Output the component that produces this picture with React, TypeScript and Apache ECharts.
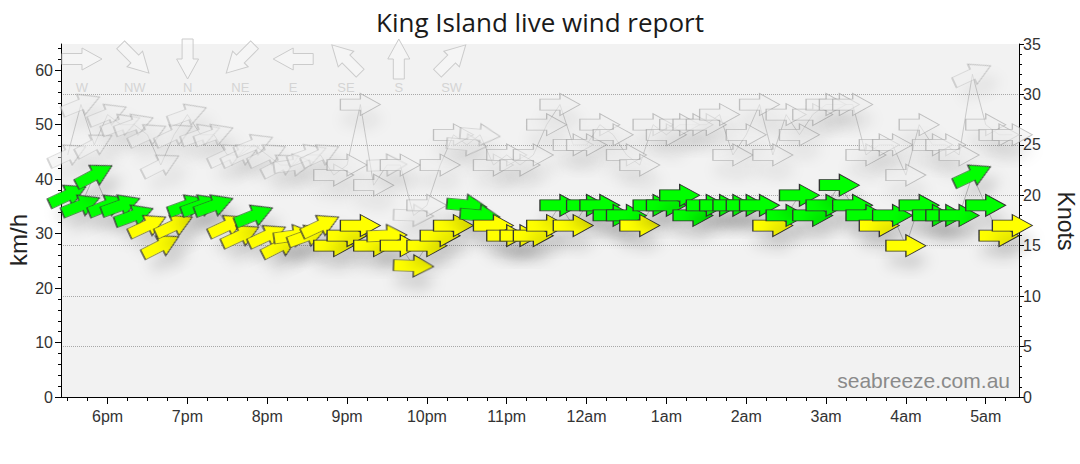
import React, { useEffect, useRef } from "react";
import * as echarts from "echarts";

// Observation times (local), every 10 minutes
const times = [
  "17:30", "17:40", "17:50", "18:00", "18:10", "18:20", "18:30", "18:40", "18:50",
  "19:00", "19:10", "19:20", "19:30", "19:40", "19:50", "20:00", "20:10", "20:20",
  "20:30", "20:40", "20:50", "21:00", "21:10", "21:20", "21:30", "21:40", "21:50",
  "22:00", "22:10", "22:20", "22:30", "22:40", "22:50", "23:00", "23:10", "23:20",
  "23:30", "23:40", "23:50", "00:00", "00:10", "00:20", "00:30", "00:40", "00:50",
  "01:00", "01:10", "01:20", "01:30", "01:40", "01:50", "02:00", "02:10", "02:20",
  "02:30", "02:40", "02:50", "03:00", "03:10", "03:20", "03:30", "03:40", "03:50",
  "04:00", "04:10", "04:20", "04:30", "04:40", "04:50", "05:00", "05:10", "05:20",
];

// Average wind speed (knots)
const windKnots = [
  20, 19, 22, 19, 19, 18, 17, 15, 17,
  19, 19, 19, 17, 16, 18, 16, 15, 16,
  16, 17, 15, 16, 17, 15, 16, 15, 13,
  15, 16, 17, 19, 18, 17, 16, 16, 16,
  17, 19, 17, 19, 19, 18, 18, 17, 19,
  19, 20, 18, 19, 19, 19, 19, 19, 17,
  18, 20, 18, 19, 21, 19, 18, 17, 18,
  15, 19, 18, 18, 18, 22, 19, 16, 17,
];

// Gust speed (knots)
const gustKnots = [
  24, 29, 25, 28, 27, 27, 26, 23, 26,
  28, 26, 26, 24, 24, 25, 24, 23, 23,
  24, 24, 22, 23, 29, 21, 23, 23, 18,
  19, 23, 26, 25, 26, 23, 24, 23, 24,
  27, 29, 25, 25, 27, 26, 24, 23, 27,
  26, 27, 27, 27, 28, 24, 26, 29, 24,
  28, 26, 28, 29, 29, 29, 24, 25, 25,
  22, 27, 25, 25, 24, 32, 27, 26, 26,
];

// Wind direction (degrees, direction the wind comes from)
const windDir = [
  245, 248, 242, 248, 250, 250, 245, 243, 245,
  250, 250, 250, 245, 245, 248, 245, 243, 262,
  250, 245, 270, 270, 270, 270, 268, 270, 272,
  270, 270, 270, 275, 275, 270, 270, 270, 270,
  270, 270, 270, 270, 270, 270, 270, 270, 270,
  270, 270, 270, 270, 270, 270, 270, 270, 270,
  270, 270, 270, 270, 270, 270, 270, 270, 270,
  270, 270, 270, 270, 270, 245, 270, 270, 270,
];

const hourLabels = ["6pm", "7pm", "8pm", "9pm", "10pm", "11pm", "12am", "1am", "2am", "3am", "4am", "5am"];
const kmhLabels = [0, 10, 20, 30, 40, 50, 60];
const compassLabels = ["W", "NW", "N", "NE", "E", "SE", "S", "SW"];
const compassDirs = [270, 315, 360, 45, 90, 135, 180, 225];

const KNOT_TO_KMH = 1.852;
const MAX_KNOTS = 35;
const GREEN = "#00ff00";
const YELLOW = "#ffff00";
const FONT = "'Liberation Sans', Arial, sans-serif";
const ARROW = "path://M0,5.5L20,5.5L20,0L40,11L20,22L20,16.5L0,16.5Z";

// minutes since 17:00
function toMin(t: string): number {
  const [h, m] = t.split(":").map(Number);
  const hh = h < 12 ? h + 24 : h;
  return (hh - 17) * 60 + m;
}

const X_MIN = 25;
const X_MAX = 745;

export default function App() {
  const ref = useRef<HTMLDivElement>(null);

  useEffect(() => {
    if (!ref.current) return;
    const chart = echarts.init(ref.current, undefined, { renderer: "svg" });

    const hourTicks = hourLabels.map((_, i) => (i + 1) * 60);
    const quarterTicks: number[] = [];
    for (let v = 30; v < X_MAX; v += 15) if (v % 60 !== 0) quarterTicks.push(v);
    const kmhMinor: number[] = [];
    for (let v = 2; v < MAX_KNOTS * KNOT_TO_KMH; v += 2) if (v % 10 !== 0) kmhMinor.push(v);

    const gustData = times.map((t, i) => ({
      value: [toMin(t), gustKnots[i]],
      symbolRotate: 270 - windDir[i],
    }));
    const windData = times.map((t, i) => ({
      value: [toMin(t), windKnots[i]],
      symbolRotate: 270 - windDir[i],
      itemStyle: { color: windKnots[i] >= 18 ? GREEN : YELLOW },
    }));

    // compass legend
    const arrowPts = [
      [-20, -5.5], [0, -5.5], [0, -11], [20, 0], [0, 11], [0, 5.5], [-20, 5.5],
    ];
    const legendEls: any[] = [];
    compassLabels.forEach((lab, i) => {
      const cx = 82 + i * 52.8;
      const ang = ((270 - compassDirs[i]) * Math.PI) / 180;
      legendEls.push({
        type: "polygon",
        x: cx,
        y: 59,
        rotation: ang,
        z: 1,
        silent: true,
        shape: { points: arrowPts },
        style: { fill: "rgba(246,246,246,0.6)", stroke: "#cbcbcb", lineWidth: 1 },
      });
      legendEls.push({
        type: "text",
        x: cx,
        y: 87,
        z: 1,
        silent: true,
        style: {
          text: lab,
          fill: "#d4d4d4",
          font: `13px ${FONT}`,
          align: "center",
          verticalAlign: "middle",
        },
      });
    });

    chart.setOption({
      animation: false,
      title: {
        text: "King Island live wind report",
        left: "center",
        top: 4,
        textStyle: {
          fontFamily: "'Open Sans', sans-serif",
          fontSize: 26,
          fontWeight: "normal",
          color: "#1a1a1a",
        },
      },
      grid: {
        left: 61,
        right: 61,
        top: 44,
        bottom: 67,
        show: true,
        backgroundColor: "#f2f2f2",
        borderWidth: 0,
      },
      xAxis: [
        {
          type: "value",
          min: X_MIN,
          max: X_MAX,
          position: "bottom",
          axisLine: { show: true, lineStyle: { color: "#000", width: 1 } },
          axisTick: { show: true, customValues: hourTicks, length: 7, lineStyle: { color: "#000" } },
          axisLabel: {
            customValues: hourTicks,
            formatter: (v: number) => hourLabels[Math.round(v / 60) - 1] ?? "",
            color: "#333",
            fontSize: 16,
            fontFamily: FONT,
            margin: 11,
          },
          splitLine: { show: false },
        },
        {
          type: "value",
          min: X_MIN,
          max: X_MAX,
          position: "bottom",
          axisLine: { show: false },
          axisTick: { show: true, customValues: quarterTicks, length: 4, lineStyle: { color: "#000" } },
          axisLabel: { show: false },
          splitLine: { show: false },
        },
      ],
      yAxis: [
        {
          type: "value",
          position: "left",
          min: 0,
          max: MAX_KNOTS * KNOT_TO_KMH,
          axisLine: { show: true, lineStyle: { color: "#000", width: 1 } },
          axisTick: { show: true, customValues: kmhLabels, length: 6, lineStyle: { color: "#000" } },
          axisLabel: { customValues: kmhLabels, color: "#333", fontSize: 16, fontFamily: FONT, margin: 8 },
          splitLine: { show: false },
        },
        {
          type: "value",
          position: "right",
          min: 0,
          max: MAX_KNOTS,
          interval: 5,
          axisLine: { show: true, lineStyle: { color: "#000", width: 1 } },
          axisTick: { show: true, length: 5, lineStyle: { color: "#000" } },
          minorTick: { show: true, splitNumber: 5, length: 3, lineStyle: { color: "#000" } },
          axisLabel: { color: "#333", fontSize: 16, fontFamily: FONT, margin: 4 },
          splitLine: {
            show: true,
            showMinLine: false,
            showMaxLine: false,
            lineStyle: { color: "#a8a8a8", type: "dotted", width: 1 },
          },
        },
        {
          type: "value",
          position: "left",
          min: 0,
          max: MAX_KNOTS * KNOT_TO_KMH,
          axisLine: { show: false },
          axisTick: { show: true, customValues: kmhMinor, length: 3, lineStyle: { color: "#000" } },
          axisLabel: { show: false },
          splitLine: { show: false },
        },
      ],
      graphic: [
        ...legendEls,
        {
          type: "text",
          x: 1010,
          y: 391,
          z: 1,
          silent: true,
          style: {
            text: "seabreeze.com.au",
            fill: "#8a8a8a",
            font: `21px ${FONT}`,
            align: "right",
            verticalAlign: "bottom",
          },
        },
        {
          type: "text",
          x: 18,
          y: 240,
          rotation: Math.PI / 2,
          silent: true,
          style: {
            text: "km/h",
            fill: "#222",
            font: `24px ${FONT}`,
            align: "center",
            verticalAlign: "middle",
          },
        },
        {
          type: "text",
          x: 1066,
          y: 221,
          rotation: -Math.PI / 2,
          silent: true,
          style: {
            text: "Knots",
            fill: "#222",
            font: `23px ${FONT}`,
            align: "center",
            verticalAlign: "middle",
          },
        },
      ],
      series: [
        {
          name: "Gust",
          type: "line",
          xAxisIndex: 0,
          yAxisIndex: 1,
          data: gustData,
          symbol: ARROW,
          symbolSize: [40, 22],
          showAllSymbol: true,
          clip: false,
          silent: true,
          z: 3,
          lineStyle: { color: "rgba(150,150,150,0.45)", width: 1 },
          itemStyle: {
            color: "rgba(238,238,238,0.55)",
            borderColor: "rgba(150,150,150,0.55)",
            borderWidth: 1,
            shadowBlur: 14,
            shadowColor: "rgba(0,0,0,0.12)",
            shadowOffsetX: 3,
            shadowOffsetY: 15,
          },
        },
        {
          name: "Wind",
          type: "line",
          xAxisIndex: 0,
          yAxisIndex: 1,
          data: windData,
          symbol: ARROW,
          symbolSize: [40, 22],
          showAllSymbol: true,
          clip: false,
          silent: true,
          z: 4,
          lineStyle: { color: "rgba(150,150,150,0.6)", width: 1 },
          itemStyle: {
            borderColor: "#333",
            borderWidth: 1,
            shadowBlur: 14,
            shadowColor: "rgba(0,0,0,0.15)",
            shadowOffsetX: 3,
            shadowOffsetY: 15,
          },
        },
      ],
    });

    return () => chart.dispose();
  }, []);

  return (
    <div
      ref={ref}
      style={{ position: "absolute", left: 0, top: 0, width: 1080, height: 464 }}
    />
  );
}
